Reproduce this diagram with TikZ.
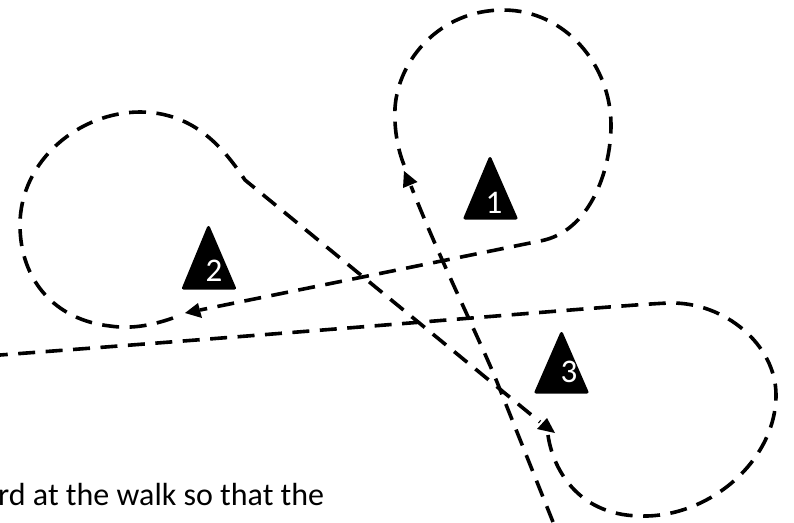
\documentclass[tikz,border=0pt]{standalone}
\usepackage{fontspec}
\setmainfont{Carlito}
\tikzset{
 walk/.style={line width=3.6pt,dash pattern=on 17pt off 10.5pt,line cap=butt},
 tip/.style={fill=black,draw=none},
 cone/.style={fill=black,draw=black,line width=3pt,line join=round},
 num/.style={text=white,font=\fontsize{33}{33}\selectfont,inner sep=0pt},
 note/.style={font=\fontsize{32}{32}\selectfont,anchor=base west,inner sep=0pt}
}
\begin{document}
\begin{tikzpicture}[x=1pt,y=-1pt]
\useasboundingbox (0,0) rectangle (794,522);
% loop 1
\draw[walk] (404,165) .. controls (398,150) and (394,130) .. (395,108)
 .. controls (398,60) and (440,10) .. (503,10)
 .. controls (565,10) and (611,65) .. (611,125)
 .. controls (611,170) and (590,232) .. (540,241)
 -- (200,310);
\fill[tip] (185,313) -- (198,303) -- (202,318) -- cycle;
% loop 2
\draw[walk] (173,318) .. controls (150,326) and (130,329) .. (110,326)
 .. controls (55,320) and (20,280) .. (20,225)
 .. controls (20,160) and (80,112) .. (140,112)
 .. controls (195,112) and (225,150) .. (245,180)
 -- (540,422);
\fill[tip] (555,433) -- (547,418) -- (537,429) -- cycle;
% loop 3
\draw[walk] (548,435) .. controls (552,465) and (575,515) .. (640,516)
 .. controls (710,518) and (776,460) .. (776,395)
 .. controls (776,345) and (725,302) .. (670,303)
 .. controls (630,304) and (400,325) .. (0,355);
% entry leg
\draw[walk] (553,522) -- (497,382) .. controls (480,340) and (440,260) .. (411,186);
\fill[tip] (404,171) -- (417.5,182) -- (403,188) -- cycle;
% cones
\filldraw[cone] (490,158.5) -- (516,218) -- (465,218) -- cycle;
\filldraw[cone] (208.5,227.5) -- (234.5,288) -- (183.5,288) -- cycle;
\filldraw[cone] (561.5,333.5) -- (587,392) -- (536,392) -- cycle;
\node[num] (n1) at (494,203) {1};
\node[num] (n2) at (214,271) {2};
\node[num] (n3) at (569,372) {3};
\node[note] (t) at (-2,505) {rd at the walk so that the};
\end{tikzpicture}
\end{document}
